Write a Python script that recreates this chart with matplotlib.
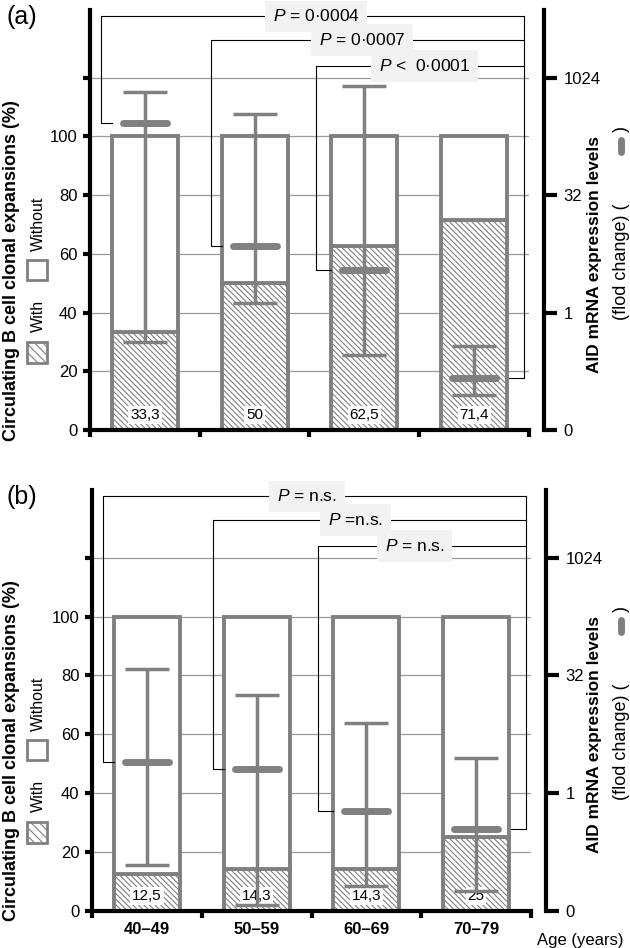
import matplotlib
matplotlib.use('Agg')
import matplotlib.pyplot as plt
import numpy as np
from matplotlib.patches import Rectangle
from matplotlib.lines import Line2D
from matplotlib.ticker import NullLocator

plt.rcParams['font.family'] = ['Liberation Sans', 'DejaVu Sans']
plt.rcParams['mathtext.fontset'] = 'custom'
plt.rcParams['mathtext.rm'] = 'Liberation Sans'
plt.rcParams['mathtext.it'] = 'Liberation Sans:italic'
plt.rcParams['hatch.color'] = '#8c8c8c'
plt.rcParams['hatch.linewidth'] = 0.8

# data
ages = ['40–49', '50–59', '60–69', '70–79']

with_a = [33.3, 50, 62.5, 71.4]
labels_a = ['33,3', '50', '62,5', '71,4']
aid_mean_a = [270, 7.1, 3.5, 0.144]
aid_low_a = [0.42, 1.34, 0.285, 0.087]
aid_high_a = [664, 347, 790, 0.376]
pvals_a = ['$P$ = 0·0004', '$P$ = 0·0007', '$P$ <  0·0001']

with_b = [12.5, 14.3, 14.3, 25]
labels_b = ['12,5', '14,3', '14,3', '25']
aid_mean_b = [2.52, 2.02, 0.59, 0.35]
aid_low_b = [0.12, 0.037, 0.065, 0.056]
aid_high_b = [38.4, 18.1, 7.9, 2.83]
pvals_b = ['$P$ = n.s.', '$P$ =n.s.', '$P$ = n.s.']

GRAY = '#808080'
W, H = 630, 948
YTOP = 143
HATCH = '\\' * 6


def fx(px):
    return px / W


def fy(py):
    return 1 - py / H


def pct_to_fold(p):
    return 2 ** ((p - 40) / 8)


def panel(ax, with_pct, labels, mean, low, high, pvals, tag, dy, show_x):
    x = np.arange(len(ages))
    without = [100 - w for w in with_pct]
    ax.bar(x, with_pct, 0.6, color='white', edgecolor=GRAY, linewidth=2.8,
           hatch=HATCH, zorder=2)
    ax.bar(x, without, 0.6, bottom=with_pct, color='white', edgecolor=GRAY,
           linewidth=2.8, zorder=2)
    for i in range(len(x)):
        ax.text(x[i], 5, labels[i], ha='center', va='center', fontsize=11, zorder=3,
                bbox=dict(boxstyle='square,pad=0.12', fc='white', ec='none'))

    ax.set_xlim(-0.5, 3.5)
    ax.set_ylim(0, YTOP)
    ax.set_yticks(range(0, 121, 20))
    ax.set_yticklabels(['0', '20', '40', '60', '80', '100', ''])
    ax.yaxis.grid(True, color='#9a9a9a', linewidth=0.9)
    ax.set_axisbelow(True)
    ax.set_xticks([-0.5, 0.5, 1.5, 2.5, 3.5])
    ax.set_xticklabels([])
    ax.set_xticks(x, minor=True)
    if show_x:
        ax.set_xticklabels(ages, minor=True, fontweight='bold', fontsize=12)
    ax.tick_params(axis='x', which='minor', length=0, pad=8)
    ax.tick_params(axis='both', which='major', width=3, length=5, labelsize=12, pad=4)
    ax.yaxis.get_major_ticks()[-1].tick1line.set_visible(False)
    for s in ['top', 'right']:
        ax.spines[s].set_visible(False)
    for s in ['left', 'bottom']:
        ax.spines[s].set_linewidth(3)

    ax2 = ax.twinx()
    ax2.set_yscale('log', base=2)
    ax2.set_ylim(pct_to_fold(0), pct_to_fold(YTOP))
    ax2.set_yticks([2 ** -5, 1, 32, 1024])
    ax2.set_yticklabels(['0', '1', '32', '1024'])
    ax2.yaxis.set_minor_locator(NullLocator())
    for s in ['top', 'left', 'bottom']:
        ax2.spines[s].set_visible(False)
    ax2.spines['right'].set_position(('outward', 11))
    ax2.spines['right'].set_linewidth(3)
    ax2.tick_params(axis='y', width=3, length=9, labelsize=12, pad=5)

    mean = np.array(mean)
    err = [mean - np.array(low), np.array(high) - mean]
    ax2.errorbar(x, mean, yerr=err, fmt='none', ecolor=GRAY, elinewidth=2.5,
                 capsize=16, capthick=2.5)
    ax2.hlines(mean, x - 0.2, x + 0.2, colors=GRAY, linewidth=5, capstyle='round')

    # brackets to the 70-79 group
    levels = [140.8, 132.7, 124]
    xl = [-0.4, 0.6, 1.56]
    hook = [-0.3, 0.7, 1.7]
    xtxt = [1.56, 1.98, 2.55] if tag == '(a)' else [1.46, 1.9, 2.44]
    xr = 3.45
    for i in range(3):
        top = pct_to_fold(levels[i])
        ax2.plot([hook[i], xl[i], xl[i], xr], [mean[i], mean[i], top, top],
                 color='black', lw=0.8, clip_on=False)
        ax2.text(xtxt[i], top, pvals[i], ha='center', va='center', fontsize=12.5,
                 bbox=dict(boxstyle='square,pad=0.45', fc='#f2f2f2', ec='none'))
    ax2.plot([xr, xr, 3.32], [pct_to_fold(levels[0]), mean[3], mean[3]],
             color='black', lw=0.8, clip_on=False)

    # labels and rotated legend
    fig.text(fx(22), fy(17 + dy), tag, fontsize=18, ha='center', va='center')
    fig.text(fx(12), fy(271 + dy), 'Circulating B cell clonal expansions (%)',
             rotation=90, fontsize=13, fontweight='bold', ha='center', va='center')
    fig.add_artist(Rectangle((fx(27), fy(363 + dy)), 20 / W, 21 / H,
                             transform=fig.transFigure, fc='white', ec=GRAY, lw=2,
                             hatch='\\\\\\\\'))
    fig.text(fx(38), fy(316 + dy), 'With', rotation=90, fontsize=11.5,
             ha='center', va='center')
    fig.add_artist(Rectangle((fx(27), fy(280 + dy)), 20 / W, 20 / H,
                             transform=fig.transFigure, fc='white', ec=GRAY, lw=2))
    fig.text(fx(38), fy(224 + dy), 'Without', rotation=90, fontsize=11.5,
             ha='center', va='center')

    fig.text(fx(595), fy(373 + dy), 'AID mRNA expression levels', rotation=90,
             fontsize=12.5, fontweight='bold', ha='center', va='bottom')
    fig.text(fx(621), fy(320 + dy), '(flod change) (', rotation=90,
             fontsize=13, ha='center', va='bottom')
    fig.add_artist(Line2D([fx(621), fx(621)], [fy(152 + dy), fy(140 + dy)],
                          transform=fig.transFigure, color=GRAY, lw=5,
                          solid_capstyle='round'))
    fig.text(fx(621), fy(132 + dy), ')', rotation=90, fontsize=13,
             ha='center', va='bottom')
    return ax2


fig = plt.figure(figsize=(6.3, 9.48), dpi=100)
ax_a = fig.add_axes([fx(90), fy(430), 439 / W, 420 / H])
ax_b = fig.add_axes([fx(92), fy(910.7), 439 / W, 420.7 / H])

panel(ax_a, with_a, labels_a, aid_mean_a, aid_low_a, aid_high_a, pvals_a, '(a)', 0, False)
panel(ax_b, with_b, labels_b, aid_mean_b, aid_low_b, aid_high_b, pvals_b, '(b)', 480, True)

fig.text(fx(580), fy(940), 'Age (years)', fontsize=12, ha='center', va='center')

fig.savefig('out.png', dpi=100)
